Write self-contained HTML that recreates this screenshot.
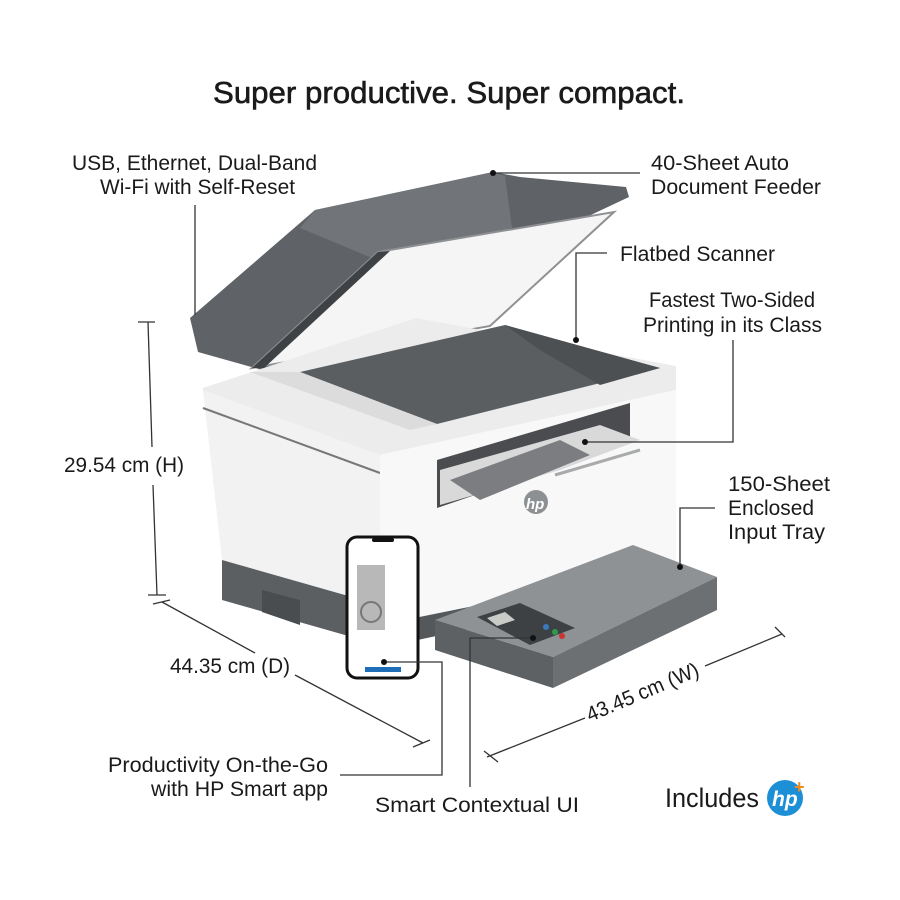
<!DOCTYPE html>
<html><head><meta charset="utf-8"><style>
html,body{margin:0;padding:0;background:#fff;}
svg{display:block;}
text{font-family:"Liberation Sans",sans-serif;fill:#1a1a1a;}
</style></head><body>
<svg width="900" height="900" viewBox="0 0 900 900" xmlns="http://www.w3.org/2000/svg">
<rect width="900" height="900" fill="#fff"/>
<text x="213" y="103" font-size="31" textLength="472" lengthAdjust="spacingAndGlyphs" stroke="#1a1a1a" stroke-width="0.6">Super productive. Super compact.</text>

<!-- lid -->
<polygon points="190,318 315,210 493,172 520,177 626,187 629,197 262,370 198,352" fill="#5f6367"/>
<polygon points="315,210 493,172 505,176 512,228 372,258 300,228" fill="#717478"/>
<polygon points="378,252 614,212 490,326 252,368" fill="#f5f5f5" stroke="#8e9093" stroke-width="2"/>
<polygon points="252,368 378,252 390,251 264,368" fill="#3f4245"/>

<!-- body top -->
<polygon points="203,388 416,318 676,366 676,390 380,455 203,392" fill="#ececec"/>
<polygon points="300,372 505,325 660,368 437,424" fill="#5b5e61"/>
<polygon points="505,325 660,368 600,385 540,350" fill="#4d5053"/>
<polygon points="250,372 300,372 437,424 410,430" fill="#dcdcdc"/>
<!-- left face -->
<polygon points="203,390 380,455 380,605 222,560" fill="#f2f2f2"/>
<line x1="203" y1="408" x2="380" y2="473" stroke="#777" stroke-width="2"/>
<polygon points="222,560 380,605 380,645 222,600" fill="#5c5f62"/>
<polygon points="262,590 300,600 300,625 262,612" fill="#4a4d50"/>
<!-- front face -->
<polygon points="380,455 676,390 676,565 380,625" fill="#f8f8f8"/>
<polygon points="380,625 676,565 676,585 380,648" fill="#55585b"/>
<!-- output slot -->
<polygon points="437,460 630,403 630,442 437,508" fill="#4a4c4f"/>
<polygon points="440,470 600,425 640,440 560,470 440,505" fill="#d9d9d9"/>
<polygon points="450,480 560,440 590,455 480,500" fill="#7b7d80"/>
<line x1="555" y1="475" x2="640" y2="450" stroke="#a8aaac" stroke-width="3"/>
<circle cx="536" cy="502" r="12" fill="#8d9093"/>
<text x="526" y="509" font-size="15" font-style="italic" style="fill:#fff" font-weight="bold">hp</text>

<!-- tray -->
<polygon points="435,620 633,545 717,577 553,657" fill="#8f9295"/>
<polygon points="435,620 553,657 553,688 435,650" fill="#5e6164"/>
<polygon points="553,657 717,577 717,610 553,688" fill="#6d7073"/>
<polygon points="477,617 520,603 575,628 530,645" fill="#3e4144"/>
<polygon points="487,618 505,612 515,620 497,626" fill="#c9ccc6"/>
<circle cx="546" cy="627" r="3" fill="#3a7bbd"/><circle cx="555" cy="632" r="3" fill="#2e9a4a"/><circle cx="562" cy="636" r="3" fill="#c33"/>

<!-- phone -->
<rect x="347" y="537" width="71" height="141" rx="10" fill="#fff" stroke="#111" stroke-width="3"/>
<rect x="372" y="538" width="22" height="4" rx="2" fill="#111"/>
<rect x="357" y="565" width="28" height="65" fill="#b8b8b8"/>
<circle cx="371" cy="612" r="10" fill="none" stroke="#777" stroke-width="2"/>
<rect x="365" y="667" width="36" height="5" fill="#1f6fb8"/>

<!-- leader lines -->
<g stroke="#333" stroke-width="1.3" fill="none">
<line x1="195" y1="205" x2="195" y2="315"/>
<line x1="493" y1="173" x2="640" y2="173"/>
<polyline points="576,340 576,253 607,253"/>
<polyline points="585,442 733,442 733,340"/>
<polyline points="680,567 680,508 715,508"/>
<polyline points="533,638 470,638 470,787"/>
<polyline points="384,662 442,662 442,775 340,775"/>
<line x1="148" y1="322" x2="152" y2="447"/>
<line x1="153" y1="485" x2="157" y2="595"/>
<line x1="138" y1="322" x2="155" y2="322"/>
<line x1="148" y1="595" x2="166" y2="595"/>
<line x1="162" y1="602" x2="255" y2="653"/>
<line x1="295" y1="675" x2="423" y2="743"/>
<line x1="153" y1="604" x2="170" y2="600"/>
<line x1="413" y1="747" x2="430" y2="740"/>
<line x1="487" y1="757" x2="585" y2="718"/>
<line x1="705" y1="666" x2="782" y2="634"/>
<line x1="484" y1="751" x2="498" y2="762"/>
<line x1="775" y1="627" x2="785" y2="637"/>
</g>
<g fill="#111">
<circle cx="493" cy="173" r="3"/><circle cx="576" cy="340" r="3"/><circle cx="585" cy="442" r="3"/>
<circle cx="680" cy="567" r="3"/><circle cx="533" cy="638" r="3"/><circle cx="384" cy="662" r="3"/>
</g>

<!-- labels -->
<g font-size="21">
<text x="72" y="170" textLength="245" lengthAdjust="spacingAndGlyphs">USB, Ethernet, Dual-Band</text>
<text x="100" y="194" textLength="195" lengthAdjust="spacingAndGlyphs">Wi-Fi with Self-Reset</text>
<text x="651" y="170" textLength="138" lengthAdjust="spacingAndGlyphs">40-Sheet Auto</text>
<text x="651" y="194" textLength="170" lengthAdjust="spacingAndGlyphs">Document Feeder</text>
<text x="620" y="261" textLength="155" lengthAdjust="spacingAndGlyphs">Flatbed Scanner</text>
<text x="649" y="307" textLength="166" lengthAdjust="spacingAndGlyphs">Fastest Two-Sided</text>
<text x="643" y="332" textLength="179" lengthAdjust="spacingAndGlyphs">Printing in its Class</text>
<text x="728" y="491" textLength="102" lengthAdjust="spacingAndGlyphs">150-Sheet</text>
<text x="728" y="515" textLength="86" lengthAdjust="spacingAndGlyphs">Enclosed</text>
<text x="728" y="539" textLength="97" lengthAdjust="spacingAndGlyphs">Input Tray</text>
<text x="64" y="472" textLength="120" lengthAdjust="spacingAndGlyphs">29.54 cm (H)</text>
<text x="170" y="673" textLength="120" lengthAdjust="spacingAndGlyphs">44.35 cm (D)</text>
<text x="108" y="772" textLength="220" lengthAdjust="spacingAndGlyphs">Productivity On-the-Go</text>
<text x="151" y="796" textLength="177" lengthAdjust="spacingAndGlyphs">with HP Smart app</text>
<text x="375" y="812" textLength="204" lengthAdjust="spacingAndGlyphs">Smart Contextual UI</text>
<text x="0" y="0" textLength="120" lengthAdjust="spacingAndGlyphs" transform="translate(590,722) rotate(-23)">43.45 cm (W)</text>
</g>
<text x="665" y="807" font-size="27" textLength="94" lengthAdjust="spacingAndGlyphs">Includes</text>
<circle cx="785" cy="798" r="18" fill="#1c8fd6"/>
<text x="772" y="806" font-size="21" font-style="italic" font-weight="bold" style="fill:#fff">hp</text>
<text x="794" y="793" font-size="18" font-weight="bold" style="fill:#f08a1c">+</text>
</svg>
</body></html>
